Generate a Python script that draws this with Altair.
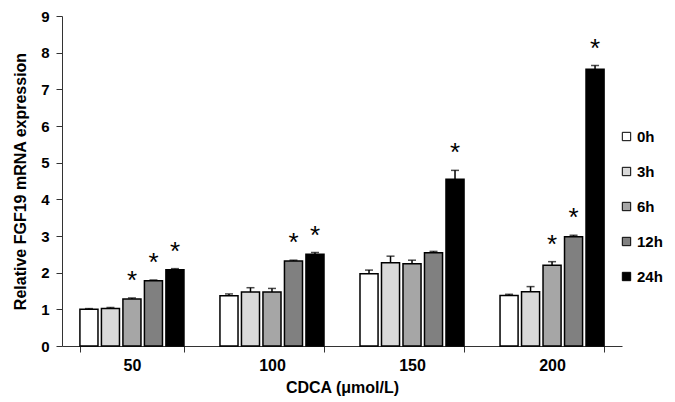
import altair as alt
import pandas as pd

concs = ["50", "100", "150", "200"]
times = ["0h", "3h", "6h", "12h", "24h"]
values = [
    [1.00, 1.02, 1.28, 1.78, 2.08],
    [1.37, 1.47, 1.47, 2.32, 2.50],
    [1.97, 2.27, 2.24, 2.54, 4.55],
    [1.38, 1.48, 2.20, 2.98, 7.55],
]
errors = [
    [0.02, 0.03, 0.03, 0.02, 0.03],
    [0.05, 0.12, 0.10, 0.02, 0.05],
    [0.10, 0.18, 0.10, 0.04, 0.24],
    [0.03, 0.14, 0.10, 0.04, 0.10],
]
signif = [
    [0, 0, 1, 1, 1],
    [0, 0, 0, 1, 1],
    [0, 0, 0, 0, 1],
    [0, 0, 1, 1, 1],
]
colors = ["#ffffff", "#d9d9d9", "#a6a6a6", "#808080", "#000000"]

rows = []
for i, c in enumerate(concs):
    for j, t in enumerate(times):
        rows.append({
            "conc": c, "time": t, "value": values[i][j],
            "top": values[i][j] + errors[i][j],
            "star": "*" if signif[i][j] else "",
        })
df = pd.DataFrame(rows)

FONT = "Liberation Sans"

x = alt.X("conc:N", sort=concs, title="CDCA (μmol/L)",
          scale=alt.Scale(paddingInner=0.257, paddingOuter=0.128),
          axis=alt.Axis(labelAngle=0, tickBand="extent", labelFontSize=16,
                        labelFontWeight="bold", labelFont=FONT, labelColor="#000",
                        titleFontSize=16, titleFontWeight="bold", titleFont=FONT,
                        titleColor="#000", domainColor="#333", tickColor="#333",
                        tickSize=6, labelPadding=5, titlePadding=6))
xo = alt.XOffset("time:N", sort=times, scale=alt.Scale(paddingInner=0.16, paddingOuter=0))

yaxis = alt.Axis(values=list(range(10)), grid=False, labelOverlap=False,
                 labelFontSize=15,
                 labelFontWeight="bold", labelFont=FONT, labelColor="#000",
                 titleFontSize=16, titleFontWeight="bold", titleFont=FONT,
                 titleColor="#000", domainColor="#333", tickColor="#333",
                 tickSize=6, labelPadding=7, titlePadding=12)
yscale = alt.Scale(domain=[0, 9], nice=False)
YT = "Relative FGF19 mRNA expression"

base = alt.Chart(df)

bars = base.mark_bar(stroke="#000", strokeWidth=1.5).encode(
    x=x, xOffset=xo,
    y=alt.Y("value:Q", title=YT, scale=yscale, axis=yaxis),
    fill=alt.Fill("time:N", sort=times,
                  scale=alt.Scale(domain=times, range=colors),
                  legend=alt.Legend(title=None, orient="none", legendX=557, legendY=113,
                                    symbolType="square", symbolSize=70,
                                    symbolStrokeColor="#000", symbolStrokeWidth=1,
                                    labelFontSize=15, labelFontWeight="bold",
                                    labelFont=FONT, labelColor="#000",
                                    rowPadding=19, labelOffset=3)),
)

err = base.mark_rule(color="#000", strokeWidth=1.5).encode(
    x=x, xOffset=xo,
    y=alt.Y("value:Q", title=YT, scale=yscale, axis=yaxis), y2="top:Q")
cap = base.mark_tick(color="#000", thickness=1.5, size=8).encode(
    x=x, xOffset=xo, y=alt.Y("top:Q", title=YT, scale=yscale, axis=yaxis))
stars = base.mark_text(fontSize=26, font=FONT, color="#000", dy=-9,
                       baseline="alphabetic").encode(
    x=x, xOffset=xo, y=alt.Y("top:Q", title=YT, scale=yscale, axis=yaxis),
    text="star:N")

chart = alt.layer(bars, err, cap, stars).properties(
    width=560, height=330,
    autosize=alt.AutoSizeParams(type="none"),
    padding={"left": 54, "top": 8, "right": 45, "bottom": 50},
).configure_view(stroke=None)

chart.save("out.html", embed_options={"renderer": "svg", "actions": False})
